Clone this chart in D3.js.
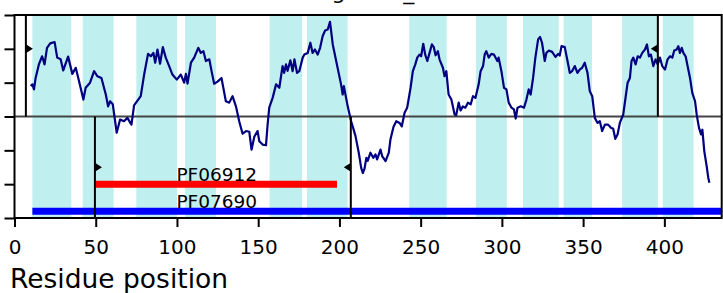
<!DOCTYPE html>
<html>
<head>
<meta charset="utf-8">
<script src="https://cdn.jsdelivr.net/npm/d3@7"></script>
<style>
  body { margin: 0; background: #fff; }
  svg { display: block; font-family: "DejaVu Sans", sans-serif; }
</style>
</head>
<body>
<div id="chart"></div>
<script>
const width = 723;
const height = 293;

// hydrophobicity profile (residue, value)
const residues = [10, 11, 12, 13, 15, 17, 18.5, 20, 22, 24.7, 26.3, 28.4, 30, 33, 35.6, 37.7, 39.7, 42.4, 43.8, 46.5,
  49, 51, 53.5, 56.2, 57.6, 58.8, 60.5, 62.9, 65, 67.4, 69.5, 72, 73.6, 77.7, 79.8, 82.2, 83.9, 85.5, 86.6, 88,
  89.6, 91.3, 93.1, 95.2, 97.2, 99.9, 102.4, 104.4, 105.5, 106.5, 108.6, 110.6, 113.1, 114.7, 116.3, 117.8, 119.9, 121.3, 122.9, 125,
  127.4, 130.1, 132.2, 134.2, 136.3, 138.3, 140.4, 142.5, 144.5, 145.9, 147.6, 149.6, 150.7, 152.7, 154.8, 155.8, 156.8, 158.9, 161, 163,
  165, 166, 167.1, 168.1, 169.8, 171.2, 172.3, 173.9, 175.3, 177.4, 178.4, 180.5, 182.1, 183.5, 184.9, 186.6, 188.1, 189.7, 191.2, 192.8,
  194.2, 195.9, 198, 201, 202, 202.7, 205.1, 207.2, 208.4, 209.9, 211.9, 213.4, 214.4, 215.4, 216.6, 217.4, 219.1, 220.8, 222.2, 223.2,
  225.3, 226.3, 228.4, 230.4, 231.4, 233.3, 235, 237, 238.4, 240.1, 241.7, 243.8, 245.2, 246.7, 247.9, 249.3, 250.3, 251.6, 252.8, 254.1,
  255.5, 256.9, 258.1, 259.2, 260.6, 261.6, 263.7, 264.7, 265.8, 267.2, 268.9, 270.9, 271.9, 273.4, 274.6, 276, 277.5, 279.1, 280.8, 282.2,
  283.7, 285.7, 286.9, 288.4, 289.4, 290.4, 291.9, 293.5, 295.1, 297.2, 298, 299.7, 301.3, 302.8, 304.2, 305.9, 307.4, 308.5, 309.6, 311.6,
  313.6, 315.1, 316.5, 317.7, 319.2, 320.6, 322.3, 323.5, 324.7, 326.4, 327.4, 328.9, 330.9, 333, 334.6, 335.6, 336.7, 338.7, 340.4, 341.8,
  343.2, 344.9, 346.5, 348, 349.4, 351, 352.7, 354.1, 355.6, 357.2, 358.9, 360.3, 361.7, 363.4, 365.4, 367.1, 368.5, 369.8, 371.2, 372.6,
  374.7, 376.1, 377.4, 378.8, 379.8, 380.9, 382.3, 383.6, 385, 386.4, 388.1, 389.3, 390.5, 391.7, 393.2, 394.6, 395.9, 397.3, 398.7, 400.4,
  402, 403.5, 404.9, 406.1, 407.6, 408.6, 409.6, 410.7, 411.7, 413.1, 414.3, 415.8, 417.2, 418.9, 419.9, 421.3, 422.6, 423.4, 424.6, 426,
  427, 427.7];
const hydro = [0.90, 0.95, 0.80, 1.14, 1.54, 1.78, 1.54, 2.03, 2.16, 2.20, 1.74, 1.69, 1.36, 1.77, 1.26, 1.44, 1.05, 0.50, 0.85, 1.00,
  1.34, 1.19, 1.14, 0.65, 0.30, 0.45, 0.36, -0.48, -0.09, -0.14, -0.04, -0.24, 0.33, 0.60, 1.24, 1.85, 1.78, 1.88, 1.59, 1.98,
  1.56, 2.05, 1.74, 1.49, 1.24, 1.09, 1.24, 1.00, 1.26, 0.97, 1.59, 1.74, 2.03, 1.88, 1.93, 1.64, 1.69, 1.34, 0.97, 1.03,
  1.14, 0.45, 0.41, 0.60, 0.30, -0.14, -0.51, -0.43, -0.45, -0.98, -0.60, -0.43, -0.73, -0.83, -0.85, -0.24, 0.26, 0.55, 0.95, 0.85,
  1.49, 1.29, 1.54, 1.35, 1.66, 1.34, 1.69, 1.29, 1.34, 1.74, 1.83, 1.88, 2.18, 1.88, 1.98, 1.83, 2.03, 2.38, 2.54, 2.57,
  2.80, 2.13, 1.64, 0.95, 0.65, 0.90, 0.30, -0.14, -0.33, -0.58, -1.07, -1.52, -1.67, -1.55, -1.22, -1.31, -1.07, -1.22, -1.12, -1.27,
  -0.98, -1.17, -1.32, -1.07, -0.68, -0.30, -0.14, -0.19, -0.29, 0.11, 0.26, 0.85, 1.34, 1.54, 1.74, 1.83, 1.78, 2.15, 1.83, 1.64,
  1.88, 2.13, 2.05, 1.81, 1.93, 1.69, 1.44, 1.19, 1.34, 0.65, 0.50, 0.06, 0.04, 0.41, 0.18, 0.30, 0.26, 0.41, 0.36, 0.60,
  0.55, 0.95, 1.34, 1.49, 1.83, 1.93, 1.74, 1.85, 1.83, 1.64, 1.74, 1.34, 0.85, 0.80, 0.41, 0.26, 0.21, -0.06, 0.26, 0.30,
  0.26, 0.50, 0.80, 0.65, 1.14, 1.74, 2.28, 2.35, 2.18, 1.64, 1.88, 1.95, 1.91, 1.76, 1.85, 1.80, 2.08, 2.05, 1.64, 1.29,
  1.34, 1.49, 1.29, 1.39, 1.44, 1.59, 1.29, 0.75, 0.60, -0.04, -0.19, -0.14, -0.43, -0.24, -0.24, -0.33, -0.36, -0.66, -0.53, -0.19,
  0.06, 0.55, 1.00, 1.14, 1.64, 1.74, 1.54, 1.78, 1.74, 1.88, 1.98, 2.13, 1.78, 1.83, 1.49, 1.69, 1.54, 1.74, 1.49, 1.39,
  1.69, 1.78, 1.74, 1.95, 1.98, 2.08, 1.88, 2.03, 1.88, 1.78, 1.49, 1.14, 0.70, 0.45, 0.06, -0.33, -0.53, -0.39, -1.03, -1.45,
  -1.80, -1.96];

// predicted transmembrane segments
const helixStart = [11, 42, 75, 105, 157, 180, 243, 284, 313, 338, 374, 399];
const helixEnd = [35, 61, 100, 124, 177, 205, 266, 303, 335, 355.5, 396, 418];

// Pfam domains
const domainNames = ["PF06912", "PF07690"];
const domainStart = [50, 11];
const domainEnd = [198.5, 440];
const domainLevel = [-2, -2.8];
const domainLabelAt = [124.5, 124.5];

// topology boundary markers
const markerPos = [7, 49.5, 207, 396];
const markerSide = ["in", "out", "out", "in"];
const markerDir = ["right", "right", "left", "left"];

const xTicks = [0, 50, 100, 150, 200, 250, 300, 350, 400];
const yTicks = [-3, -2, -1, 0, 1, 2, 3];
const titleText = "YdgE2BC_ECOLI";

const svg = d3.select("#chart").append("svg")
  .attr("width", width)
  .attr("height", height);

const x = d3.scaleLinear().domain([0, 435.3]).range([14.5, 721.7]);
const y = d3.scaleLinear().domain([-3, 3]).range([218, 15]);

// helices
svg.append("g")
  .selectAll("rect")
  .data(helixStart)
  .enter()
  .append("rect")
  .attr("x", (d) => x(d))
  .attr("width", (d, i) => x(helixEnd[i]) - x(d))
  .attr("y", y(3))
  .attr("height", y(-3) - y(3))
  .attr("fill", "#bfefef");

// zero line
svg.append("line")
  .attr("x1", x(0)).attr("x2", x(435.3))
  .attr("y1", y(0)).attr("y2", y(0))
  .attr("stroke", "#444")
  .attr("stroke-width", 2);

// profile
const line = d3.line()
  .x((d) => x(d[0]))
  .y((d) => y(d[1]));

svg.append("path")
  .datum(residues.map((r, i) => [r, hydro[i]]))
  .attr("d", line)
  .attr("fill", "none")
  .attr("stroke", "#000080")
  .attr("stroke-width", 2.2)
  .attr("stroke-linejoin", "round");

// domains
const domColor = ["#ff0000", "#0000ff"];
svg.append("clipPath").attr("id", "axclip")
  .append("rect")
  .attr("x", x(0)).attr("y", y(3))
  .attr("width", x(435.3) - x(0)).attr("height", y(-3) - y(3));

svg.append("g")
  .attr("clip-path", "url(#axclip)")
  .selectAll("line")
  .data(domainNames)
  .enter()
  .append("line")
  .attr("x1", (d, i) => x(domainStart[i]))
  .attr("x2", (d, i) => x(domainEnd[i]))
  .attr("y1", (d, i) => y(domainLevel[i]))
  .attr("y2", (d, i) => y(domainLevel[i]))
  .attr("stroke", (d, i) => domColor[i])
  .attr("stroke-width", 7);

svg.append("g")
  .selectAll("text")
  .data(domainNames)
  .enter()
  .append("text")
  .attr("x", (d, i) => x(domainLabelAt[i]))
  .attr("y", (d, i) => y(domainLevel[i]) - 3)
  .attr("text-anchor", "middle")
  .attr("font-size", "18.5px")
  .attr("fill", "#000")
  .text((d) => d);

// boundary markers
const markers = svg.append("g");
markerPos.forEach((p, i) => {
  const inside = markerSide[i] === "in";
  const y1 = inside ? y(3) : y(0);
  const y2 = inside ? y(0) : y(-3);
  const ym = inside ? y(2) : y(-1.5);
  const xm = x(p);
  markers.append("line")
    .attr("x1", xm).attr("x2", xm)
    .attr("y1", y1).attr("y2", y2)
    .attr("stroke", "#000")
    .attr("stroke-width", 2);
  const s = markerDir[i] === "right" ? 1 : -1;
  markers.append("path")
    .attr("d", `M${xm},${ym - 4.5}L${xm + s * 7},${ym}L${xm},${ym + 4.5}Z`)
    .attr("fill", "#000");
});

// axes
const xAxis = svg.append("g")
  .attr("transform", `translate(0,${y(-3)})`)
  .call(d3.axisBottom(x).tickValues(xTicks).tickSize(9).tickPadding(13));
xAxis.select(".domain").remove();
xAxis.selectAll(".tick line").attr("stroke", "#000").attr("stroke-width", 2);
xAxis.selectAll(".tick text")
  .attr("font-size", "20px")
  .attr("font-family", "DejaVu Sans, sans-serif")
  .attr("fill", "#000");

const yAxis = svg.append("g")
  .attr("transform", `translate(${x(0)},0)`)
  .call(d3.axisLeft(y).tickValues(yTicks).tickSize(10).tickFormat(""));
yAxis.select(".domain").remove();
yAxis.selectAll(".tick line").attr("stroke", "#000").attr("stroke-width", 2);

svg.append("rect")
  .attr("x", x(0)).attr("y", y(3))
  .attr("width", x(435.3) - x(0)).attr("height", y(-3) - y(3))
  .attr("fill", "none")
  .attr("stroke", "#000")
  .attr("stroke-width", 2);

svg.append("text")
  .attr("x", 10)
  .attr("y", 288)
  .attr("font-size", "26.5px")
  .attr("fill", "#000")
  .text("Residue position");

// title, mostly above the visible area (cropped in the reference too)
svg.append("text")
  .attr("x", 304)
  .attr("y", -1)
  .attr("font-size", "22px")
  .attr("fill", "#000")
  .text(titleText);
</script>
</body>
</html>
